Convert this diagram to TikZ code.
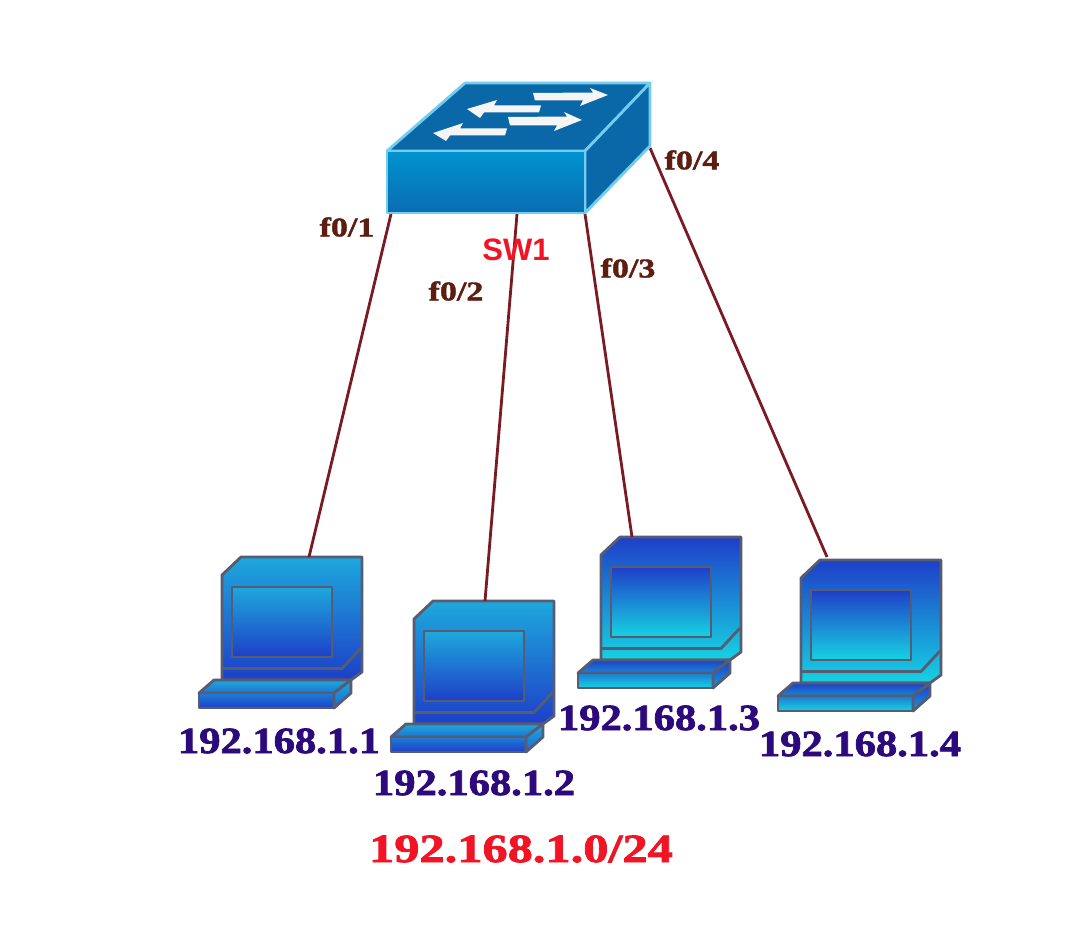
\documentclass[tikz,border=0pt]{standalone}
\usepackage{fontspec}
\usetikzlibrary{calc}
\newfontfamily\lblfont{Liberation Serif}[BoldFeatures={FakeStretch=1.15,FakeBold=2}]
\newfontfamily\netfont{Liberation Serif}[BoldFeatures={FakeStretch=1.26,FakeBold=2}]
\newfontfamily\portfont{Liberation Serif}[BoldFeatures={FakeStretch=1.26,FakeBold=1.5}]
\newfontfamily\swfont{Liberation Sans}
\definecolor{cyanbright}{HTML}{17D2E2}
\definecolor{skyblue}{HTML}{1EA8DC}
\definecolor{royal}{HTML}{1E3FC8}
\definecolor{edgegray}{HTML}{565C72}
\definecolor{swtop}{HTML}{0A68A8}
\definecolor{swfronta}{HTML}{0094D0}
\definecolor{swfrontb}{HTML}{0A6CB0}
\definecolor{swedge}{HTML}{74CCEE}
\definecolor{wire}{HTML}{7A1A22}
\definecolor{iptext}{HTML}{2C0A7C}
\definecolor{redtext}{HTML}{F01424}
\definecolor{porttext}{HTML}{5C1E10}
\tikzset{
  iplabel/.style={font=\lblfont\fontsize{37}{37}\selectfont\bfseries,text=iptext,inner sep=0pt},
  netlabel/.style={font=\netfont\fontsize{40}{40}\selectfont\bfseries,text=redtext,inner sep=0pt},
  swlabel/.style={font=\swfont\fontsize{31}{31}\selectfont\bfseries,text=redtext,inner sep=0pt},
  portlabel/.style={font=\portfont\fontsize{27}{27}\selectfont\bfseries,text=porttext,inner sep=0pt},
  link/.style={draw=wire,line width=2.8pt},
  pcedge/.style={draw=edgegray,line width=2.8pt,line join=round},
  swface/.style={draw=swedge,line width=2.8pt,line join=round},
  swarrow/.style={fill=white!92!gray,draw=none}
}
% #1 name, #2 x, #3 y, #4 top colour, #5 bottom colour
\newcommand{\pcicon}[5]{%
  \begin{scope}[shift={(#2,#3)}]
    \coordinate (#1) at (0,0);
    \path[pcedge,top color=#4,bottom color=#5] (0,18) -- (19,0) -- (140,0) -- (140,115) -- (129,123) -- (0,123) -- cycle;
    \path[pcedge,top color=#4,bottom color=#5] (10,30) rectangle (110,100);
    \draw[pcedge] (0,111.5) -- (120,111.5) -- (139,91);
    \path[pcedge,top color=#4,bottom color=#4!50!#5] (-23,136) -- (-8,123) -- (129,123) -- (112,136) -- cycle;
    \path[pcedge,top color=#4!60!#5,bottom color=#5] (-23,136) rectangle (112,151);
    \path[pcedge,top color=#4,bottom color=#4!40!#5] (112,136) -- (129,123) -- (129,136) -- (112,151) -- cycle;
  \end{scope}}
\begin{document}
\begin{tikzpicture}[x=1pt,y=-1pt]
  \useasboundingbox[fill=white] (0,0) rectangle (1073,931);
  % switch
  \coordinate (swp1) at (391,214);
  \coordinate (swp2) at (517,214);
  \coordinate (swp3) at (585,214);
  \coordinate (swp4) at (650,148);
  % hosts
  \pcicon{pcA}{222}{557}{skyblue}{royal}
  \pcicon{pcB}{414}{601}{skyblue}{royal}
  \pcicon{pcC}{601}{537}{royal}{cyanbright}
  \pcicon{pcD}{801}{560}{royal}{cyanbright}
  % links
  \draw[link] (swp1) -- ($(pcA)+(87,0)$);
  \draw[link] (swp2) -- ($(pcB)+(71,0)$);
  \draw[link] (swp3) -- ($(pcC)+(31,0)$);
  \draw[link] (swp4) -- ($(pcD)+(26,-3)$);
  % switch body
  \path[swface,fill=swtop] (387,151) -- (465,83) -- (650,83) -- (585,151) -- cycle;
  \path[swface,fill=swtop] (585,151) -- (650,83) -- (650,146) -- (585,213) -- cycle;
  \path[swface,top color=swfronta,bottom color=swfrontb] (387,151) rectangle (585,213);
  % switch arrows
  \path[swarrow] (533,93) -- (593,92.5) -- (590,88) -- (608,95) -- (580,106) -- (583,100.5) -- (535,100.5) -- cycle;
  \path[swarrow] (508,117) -- (567,116.5) -- (564,112) -- (582,120) -- (554,131) -- (557,125.5) -- (510,125.5) -- cycle;
  \path[swarrow] (467,109) -- (497,100) -- (494,105.5) -- (541,105.5) -- (539,112.5) -- (484,112.5) -- (480,118) -- cycle;
  \path[swarrow] (433,133) -- (463,123) -- (460,128.5) -- (507,128.5) -- (505,135.5) -- (450,135.5) -- (446,141) -- cycle;
  % labels
  \node[portlabel] (lp1) at (347,227) {f0/1};
  \node[portlabel] (lp2) at (456,291) {f0/2};
  \node[portlabel] (lp3) at (628,268) {f0/3};
  \node[portlabel] (lp4) at (692,160) {f0/4};
  \node[swlabel] (lsw) at (516,250) {SW1};
  \node[iplabel] (ip1) at (279,741) {192.168.1.1};
  \node[iplabel] (ip2) at (474,783) {192.168.1.2};
  \node[iplabel] (ip3) at (659,718) {192.168.1.3};
  \node[iplabel] (ip4) at (860,744) {192.168.1.4};
  \node[netlabel] (net) at (521,849) {192.168.1.0/24};
\end{tikzpicture}
\end{document}
